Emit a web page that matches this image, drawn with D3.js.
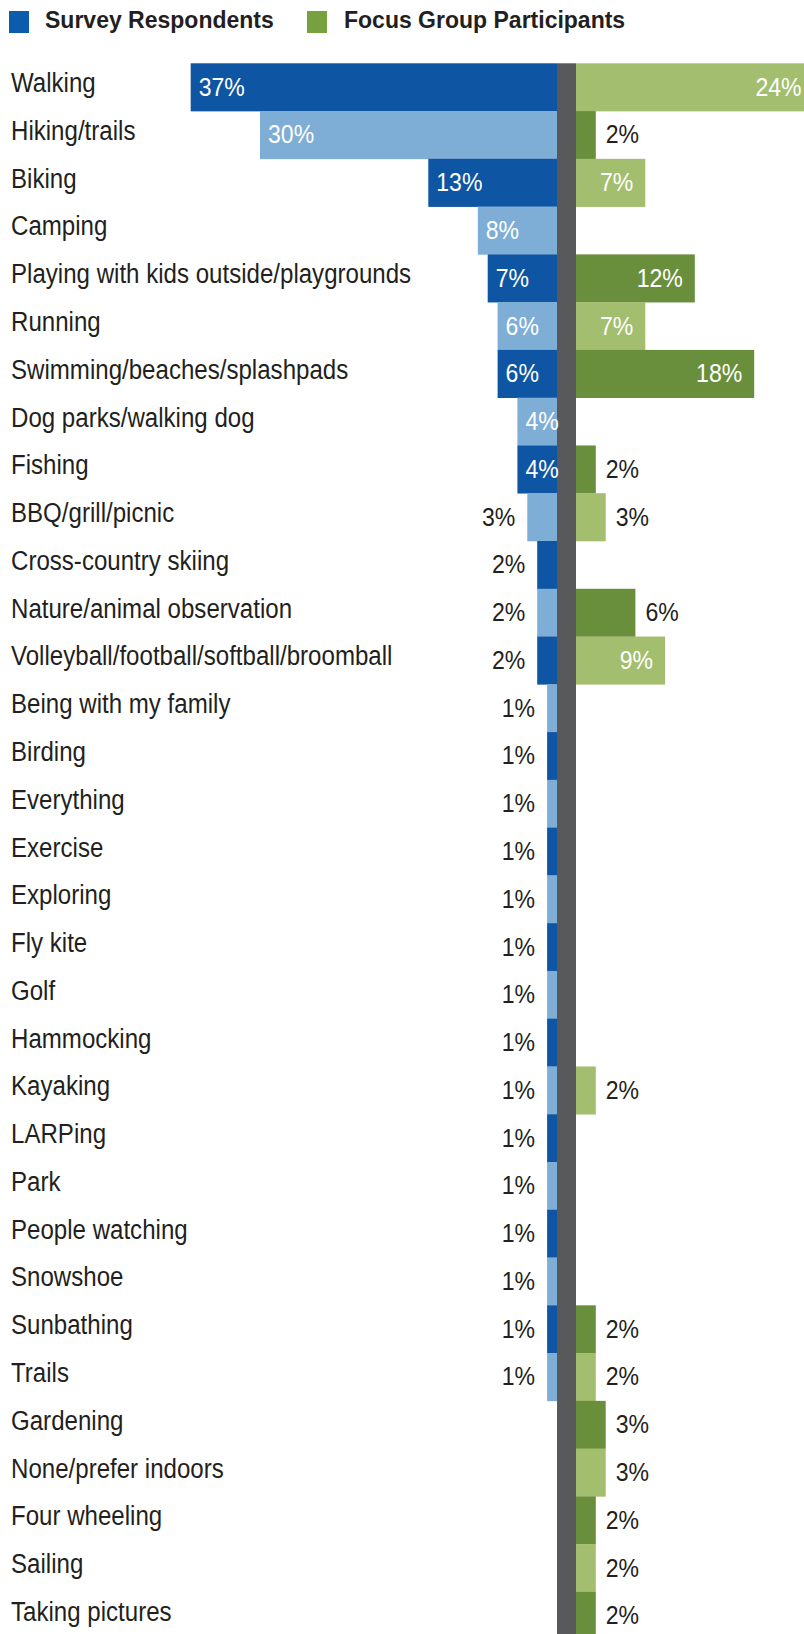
<!DOCTYPE html>
<html>
<head>
<meta charset="utf-8">
<script src="https://cdn.jsdelivr.net/npm/d3@7"></script>
<style>
  html, body { margin: 0; padding: 0; background: #ffffff; }
  svg { display: block; }
  .cat { font-family: "Liberation Sans", Arial, sans-serif; font-size: 28px; fill: #231f20; }
  .val { font-family: "Liberation Sans", Arial, sans-serif; font-size: 26.5px; }
  .legend { font-family: "Liberation Sans", Arial, sans-serif; font-weight: bold; font-size: 23px; fill: #231f20; }
</style>
</head>
<body>
<svg id="chart" width="804" height="1634"></svg>
<script>
// Favourite outdoor activities, share of mentions (%)
const categories = [
  "Walking", "Hiking/trails", "Biking", "Camping",
  "Playing with kids outside/playgrounds", "Running",
  "Swimming/beaches/splashpads", "Dog parks/walking dog", "Fishing",
  "BBQ/grill/picnic", "Cross-country skiing", "Nature/animal observation",
  "Volleyball/football/softball/broomball", "Being with my family", "Birding",
  "Everything", "Exercise", "Exploring", "Fly kite", "Golf", "Hammocking",
  "Kayaking", "LARPing", "Park", "People watching", "Snowshoe", "Sunbathing",
  "Trails", "Gardening", "None/prefer indoors", "Four wheeling", "Sailing",
  "Taking pictures"
];

const surveyRespondents = [
  37, 30, 13, 8, 7, 6, 6, 4, 4, 3, 2, 2, 2, 1, 1, 1, 1, 1, 1, 1, 1,
  1, 1, 1, 1, 1, 1, 1, null, null, null, null, null
];

const focusGroupParticipants = [
  24, 2, 7, null, 12, 7, 18, null, 2, 3, null, 6, 9, null, null, null, null,
  null, null, null, null, 2, null, null, null, null, 2, 2, 3, 3, 2, 2, 2
];

// Shade of each focus-group bar: 1 = dark green, 0 = light green
const focusShades = [
  0, 1, 0, null, 1, 0, 1, null, 1, 0, null, 1, 0, null, null, null, null,
  null, null, null, null, 0, null, null, null, null, 1, 0, 1, 0, 1, 0, 1
];

const seriesNames = ["Survey Respondents", "Focus Group Participants"];

const W = 804, H = 1634;
const colors = {
  blueDark: "#0e55a3", blueLight: "#7eadd6",
  greenDark: "#6a8f3c", greenLight: "#a3be6e",
  axis: "#58595b", text: "#231f20",
  legendBlue: "#0b5cad", legendGreen: "#76a13e"
};

// Condensed type: regular sans squeezed horizontally
const CAT_SQUEEZE = 0.86, VAL_SQUEEZE = 0.87;
const at = (x, yy, k) => `translate(${x},${yy}) scale(${k},1)`;

const svg = d3.select("#chart");

const axisLeft = 557, axisRight = 576;
const chartTop = 63.3, rowStep = 47.77;

const y = d3.scaleBand()
  .domain(categories)
  .range([chartTop, chartTop + rowStep * categories.length])
  .paddingInner(0).paddingOuter(0);

// Shared magnitude scale for both sides of the centre spine
const len = d3.scaleLinear().domain([0, 37]).range([0, 366.3]);

const rows = categories.map((c, i) => ({
  cat: c, i,
  s: surveyRespondents[i],
  f: focusGroupParticipants[i],
  shade: focusShades[i]
}));

// Legend
const legend = svg.append("g");
legend.append("rect").attr("x", 9).attr("y", 11).attr("width", 20).attr("height", 22).attr("fill", colors.legendBlue);
legend.append("text").attr("class", "legend").attr("x", 45).attr("y", 27.5).text(seriesNames[0]);
legend.append("rect").attr("x", 307).attr("y", 11).attr("width", 20).attr("height", 22).attr("fill", colors.legendGreen);
legend.append("text").attr("class", "legend").attr("x", 344).attr("y", 27.5).text(seriesNames[1]);

// Survey bars grow leftwards from the spine
const sRows = rows.filter(d => d.s != null);
svg.append("g").selectAll("rect").data(sRows).join("rect")
  .attr("x", d => axisLeft - len(d.s))
  .attr("y", d => y(d.cat))
  .attr("width", d => len(d.s))
  .attr("height", y.bandwidth() + 0.3)
  .attr("fill", d => d.i % 2 === 0 ? colors.blueDark : colors.blueLight);

// Focus group bars grow rightwards from the spine
const fRows = rows.filter(d => d.f != null);
svg.append("g").selectAll("rect").data(fRows).join("rect")
  .attr("x", axisRight)
  .attr("y", d => y(d.cat))
  .attr("width", d => len(d.f))
  .attr("height", y.bandwidth() + 0.3)
  .attr("fill", d => d.shade === 1 ? colors.greenDark : colors.greenLight);

// Centre spine
svg.append("rect")
  .attr("x", axisLeft).attr("y", chartTop)
  .attr("width", axisRight - axisLeft).attr("height", H - chartTop)
  .attr("fill", colors.axis);

// Category labels
svg.append("g").selectAll("text").data(rows).join("text")
  .attr("class", "cat")
  .attr("transform", d => at(11, y(d.cat) + y.bandwidth() / 2 + 5, CAT_SQUEEZE))
  .text(d => d.cat);

const fmt = v => v + "%";

// Survey value labels: inside the bar when it is wide enough, otherwise to its left
svg.append("g").selectAll("text").data(sRows).join("text")
  .attr("class", "val")
  .attr("transform", d => at(
    d.s >= 4 ? axisLeft - len(d.s) + 8 : axisLeft - len(d.s) - 12,
    y(d.cat) + y.bandwidth() / 2 + 8.5, VAL_SQUEEZE))
  .attr("text-anchor", d => d.s >= 4 ? "start" : "end")
  .attr("fill", d => d.s >= 4 ? "#ffffff" : colors.text)
  .text(d => fmt(d.s));

// Focus group value labels: right-aligned inside, or just past the bar end
svg.append("g").selectAll("text").data(fRows).join("text")
  .attr("class", "val")
  .attr("transform", d => at(
    d.f >= 7 ? axisRight + len(d.f) - 12 : axisRight + len(d.f) + 10,
    y(d.cat) + y.bandwidth() / 2 + 8.5, VAL_SQUEEZE))
  .attr("text-anchor", d => d.f >= 7 ? "end" : "start")
  .attr("fill", d => d.f >= 7 ? "#ffffff" : colors.text)
  .text(d => fmt(d.f));
</script>
</body>
</html>
